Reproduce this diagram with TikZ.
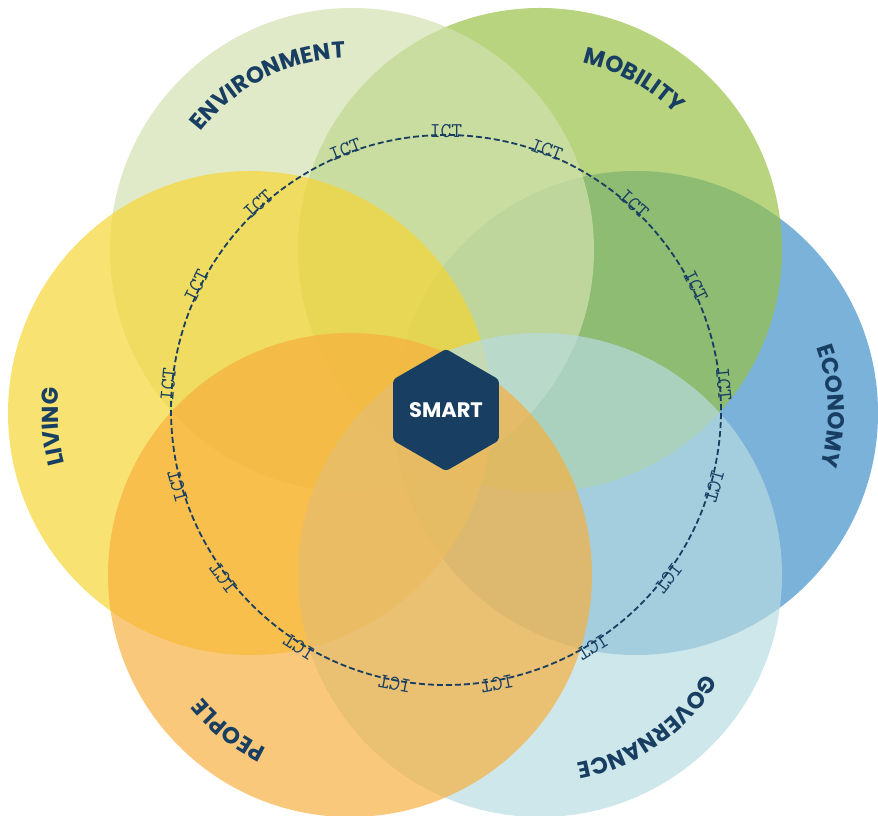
\documentclass[tikz,border=0pt]{standalone}
\usepackage{fontspec}
\newfontfamily\headfont{Poppins}
\usetikzlibrary{shapes.geometric,decorations.text}

\definecolor{navy}{RGB}{24,62,98}
\definecolor{envgreen}{RGB}{212,225,175}
\definecolor{mobgreen}{RGB}{152,193,70}
\definecolor{ecoblue}{RGB}{62,143,201}
\definecolor{govblue}{RGB}{183,220,224}
\definecolor{peopleorange}{RGB}{248,175,62}
\definecolor{livyellow}{RGB}{245,214,50}

\tikzset{
  petal/.style={fill opacity=0.69},
  ictlabel/.style={font=\ttfamily\fontsize{21}{21}\selectfont, text=navy, anchor=south, inner sep=0pt},
  smartbox/.style={regular polygon, regular polygon sides=6, shape border rotate=30,
    minimum size=122pt, inner sep=0pt, fill=navy, text=white, rounded corners=3pt,
    font=\headfont\bfseries\fontsize{21}{21}\selectfont}
}

% curved label along a circle: center, mid angle, text
\newcommand{\petallabel}[3]{%
  \path[decorate, decoration={text along path, text align=center, text color=navy,
    text={|\headfont\bfseries\fontsize{23}{23}\selectfont|#3}}]
    ([shift={({#2+60}:192)}]#1) arc[start angle={#2+60}, end angle={#2-60}, radius=192];
}

\begin{document}
\begin{tikzpicture}[x=1pt,y=1pt]
  \useasboundingbox (0,0) rectangle (878,816);

  % Centres of the six circles
  \coordinate (hub) at (446,406);
  \coordinate (environment) at (352,566);
  \coordinate (mobility) at (540,566);
  \coordinate (living) at (250,403);
  \coordinate (economy) at (636,403);
  \coordinate (people) at (350,241);
  \coordinate (governance) at (540,241);

  % Draw the circles
  \fill[petal, ecoblue] (economy) circle [radius=242];
  \fill[petal, mobgreen] (mobility) circle [radius=242];
  \fill[petal, envgreen] (environment) circle [radius=242];
  \fill[petal, livyellow] (living) circle [radius=242];
  \fill[petal, govblue] (governance) circle [radius=242];
  \fill[petal, peopleorange] (people) circle [radius=242];

  % Labels of the circles
  \petallabel{environment}{117}{ENVIRONMENT}
  \petallabel{mobility}{61}{MOBILITY}
  \petallabel{economy}{2}{ECONOMY}
  \petallabel{governance}{-55}{GOVERNANCE}
  \petallabel{people}{-128}{PEOPLE}
  \petallabel{living}{184}{LIVING}

  % Draw the dashed ring
  \draw[navy, line width=1.8pt, dash pattern=on 6pt off 3pt] (hub) circle [radius=275];

  % ICT labels on the ring
  \foreach \k in {0,...,16} {
    \pgfmathsetmacro\ang{90-\k*360/17}
    \node[ictlabel, rotate=\ang-90] (ict\k) at ([shift={(\ang:272)}]hub) {ICT};
  }

  % The centre
  \node[smartbox] (smart) at (hub) {SMART};
\end{tikzpicture}
\end{document}
